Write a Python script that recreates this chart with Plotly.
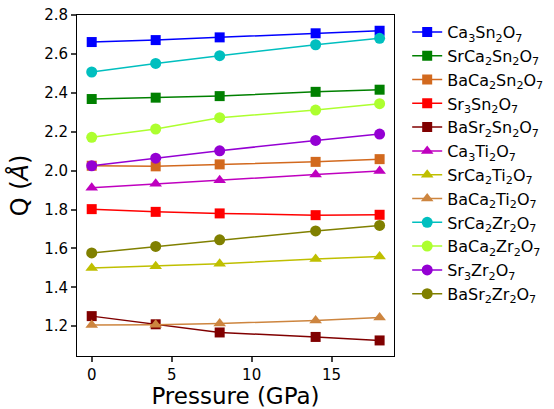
import plotly.graph_objects as go

pressure = [0, 4, 8, 14, 18]

names = [
    "Ca<sub>3</sub>Sn<sub>2</sub>O<sub>7</sub>",
    "SrCa<sub>2</sub>Sn<sub>2</sub>O<sub>7</sub>",
    "BaCa<sub>2</sub>Sn<sub>2</sub>O<sub>7</sub>",
    "Sr<sub>3</sub>Sn<sub>2</sub>O<sub>7</sub>",
    "BaSr<sub>2</sub>Sn<sub>2</sub>O<sub>7</sub>",
    "Ca<sub>3</sub>Ti<sub>2</sub>O<sub>7</sub>",
    "SrCa<sub>2</sub>Ti<sub>2</sub>O<sub>7</sub>",
    "BaCa<sub>2</sub>Ti<sub>2</sub>O<sub>7</sub>",
    "SrCa<sub>2</sub>Zr<sub>2</sub>O<sub>7</sub>",
    "BaCa<sub>2</sub>Zr<sub>2</sub>O<sub>7</sub>",
    "Sr<sub>3</sub>Zr<sub>2</sub>O<sub>7</sub>",
    "BaSr<sub>2</sub>Zr<sub>2</sub>O<sub>7</sub>",
]

ca3sn2o7 = [2.661, 2.671, 2.685, 2.706, 2.719]
srca2sn2o7 = [2.368, 2.375, 2.383, 2.405, 2.416]
baca2sn2o7 = [2.025, 2.022, 2.032, 2.045, 2.059]
sr3sn2o7 = [1.802, 1.788, 1.780, 1.771, 1.773]
basr2sn2o7 = [1.252, 1.210, 1.168, 1.145, 1.127]
ca3ti2o7 = [1.912, 1.932, 1.951, 1.980, 1.998]
srca2ti2o7 = [1.499, 1.509, 1.521, 1.546, 1.559]
baca2ti2o7 = [1.207, 1.208, 1.214, 1.230, 1.245]
srca2zr2o7 = [2.507, 2.551, 2.591, 2.647, 2.680]
baca2zr2o7 = [2.171, 2.214, 2.272, 2.311, 2.344]
sr3zr2o7 = [2.025, 2.064, 2.102, 2.155, 2.188]
basr2zr2o7 = [1.577, 1.610, 1.644, 1.690, 1.718]

y_ticks = [1.2, 1.4, 1.6, 1.8, 2.0, 2.2, 2.4, 2.6, 2.8]
x_ticks = [0, 5, 10, 15]

series = [ca3sn2o7, srca2sn2o7, baca2sn2o7, sr3sn2o7, basr2sn2o7, ca3ti2o7,
          srca2ti2o7, baca2ti2o7, srca2zr2o7, baca2zr2o7, sr3zr2o7, basr2zr2o7]
colors = ["#0000FF", "#008000", "#D2691E", "#FF0000", "#800000", "#BF00BF",
          "#BFBF00", "#CD853F", "#00BFBF", "#ADFF2F", "#9400D3", "#808000"]
symbols = ["square"] * 5 + ["triangle-up"] * 3 + ["circle"] * 4

fig = go.Figure()
for n, s, c, m in zip(names, series, colors, symbols):
    fig.add_trace(go.Scatter(
        x=pressure, y=s, name=n, mode="lines+markers",
        line=dict(color=c, width=1.5),
        marker=dict(symbol=m, size=11 if m != "square" else 10, color=c, line=dict(width=0)),
    ))

fig.update_layout(
    width=554, height=409,
    margin=dict(l=77, r=160, t=15, b=53, autoexpand=False),
    paper_bgcolor="white", plot_bgcolor="white",
    font=dict(family="DejaVu Sans", color="black"),
    showlegend=True,
    legend=dict(xref="container", x=0.735, y=1.0, xanchor="left", yanchor="top",
                font=dict(size=16), tracegroupgap=0, bgcolor="rgba(0,0,0,0)"),
    xaxis=dict(range=[-0.92, 18.9], tickvals=x_ticks, ticks="outside",
               ticklen=5, tickwidth=1.5, showline=True, mirror=True, linecolor="black",
               linewidth=1, showgrid=False, zeroline=False, tickfont=dict(size=15),
               automargin=False,
               title=dict(text="Pressure (GPa)", font=dict(size=23), standoff=8)),
    yaxis=dict(range=[1.047, 2.8], tickvals=y_ticks,
               tickformat=".1f", ticks="outside", ticklen=5, tickwidth=1.5,
               showline=True, mirror=True, linecolor="black", linewidth=1,
               showgrid=False, zeroline=False, tickfont=dict(size=15),
               automargin=False,
               title=dict(text="Q (<i>Å</i>)", font=dict(size=24), standoff=8)),
)

fig.write_html("out.html", config={"displayModeBar": False},
               post_script="document.body.style.margin='0px';")
